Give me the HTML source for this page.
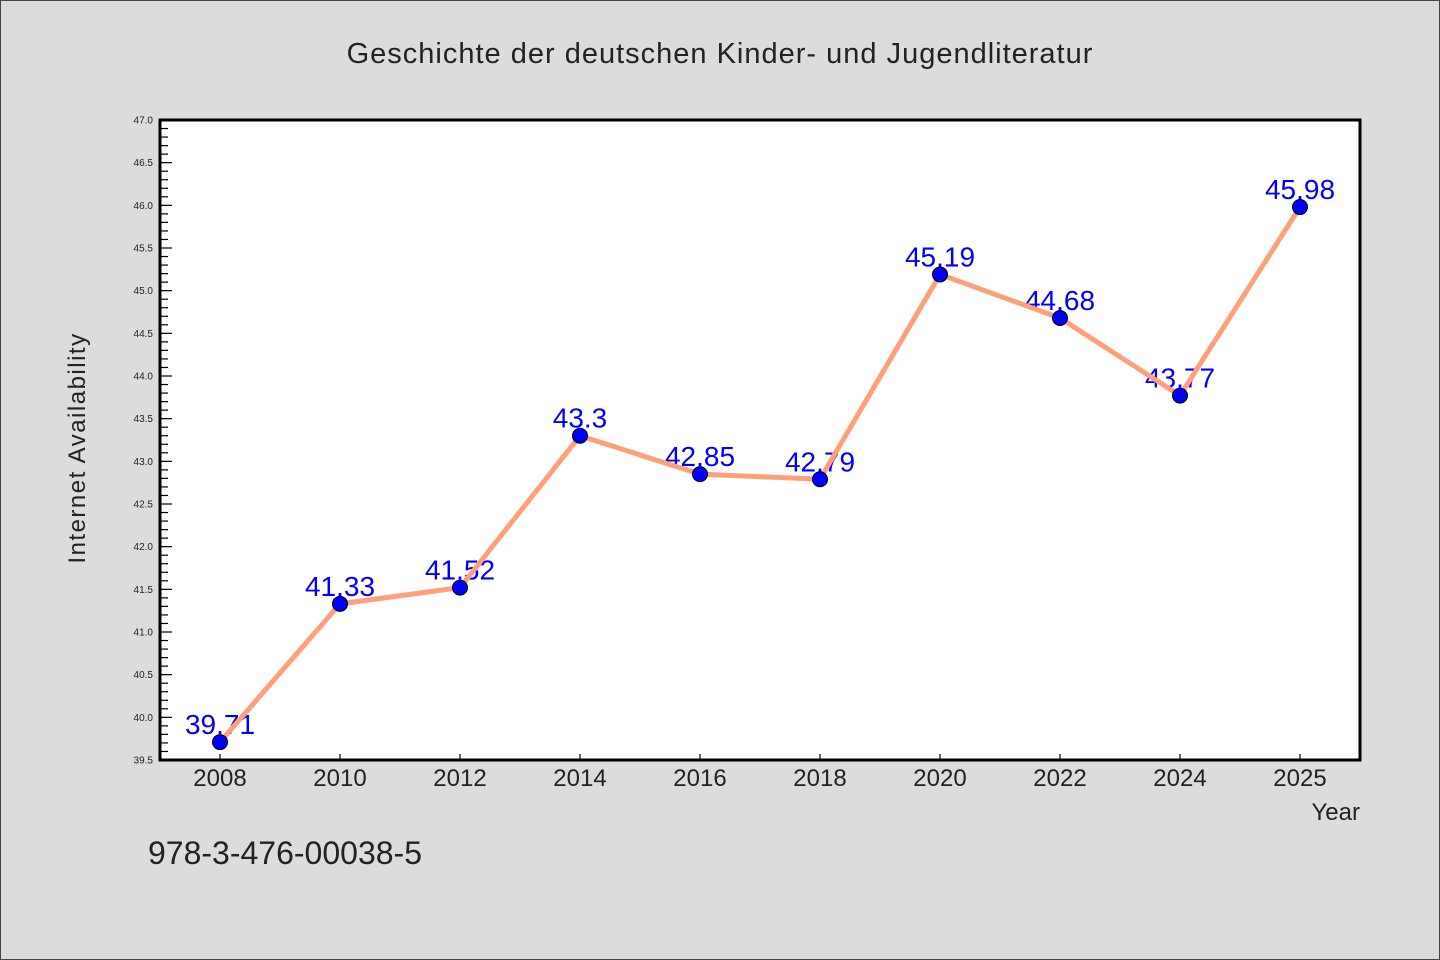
<!DOCTYPE html>
<html><head><meta charset="utf-8">
<style>
html,body{margin:0;padding:0;background:#dcdcdc;}
svg{display:block;}
text{font-family:"WenQuanYi Zen Hei","Liberation Sans",sans-serif;}
</style></head>
<body>
<svg id="chart" width="1440" height="960" xmlns="http://www.w3.org/2000/svg">
<rect x="0.5" y="0.5" width="1439" height="959" fill="#dcdcdc" stroke="#444" stroke-width="1"/>
<text x="720" y="63" font-size="29" text-anchor="middle" fill="#222" letter-spacing="1">Geschichte der deutschen Kinder- und Jugendliteratur</text>
<rect x="160" y="120" width="1200" height="640" fill="#fff"/>
<g id="grid"></g>
<text transform="translate(85,448) rotate(-90)" font-size="24" text-anchor="middle" fill="#222" letter-spacing="1.5">Internet Availability</text>
<text x="1360" y="820" font-size="24" text-anchor="end" fill="#222">Year</text>
<text x="148" y="864" font-size="32" fill="#222">978-3-476-00038-5</text>
</svg>
<script>
const categories = ["2008","2010","2012","2014","2016","2018","2020","2022","2024","2025"];
const values = [39.71,41.33,41.52,43.3,42.85,42.79,45.19,44.68,43.77,45.98];
const valueLabels = ["39.71","41.33","41.52","43.3","42.85","42.79","45.19","44.68","43.77","45.98"];
const yTicks = [39.5,40.0,40.5,41.0,41.5,42.0,42.5,43.0,43.5,44.0,44.5,45.0,45.5,46.0,46.5,47.0];
const yMin = 39.5, yMax = 47.0;
const L=160,R=1360,T=120,B=760;
const NS="http://www.w3.org/2000/svg";
const svg=document.getElementById('chart');
const g=document.getElementById('grid');
function x(i){return L+(R-L)/categories.length*(i+0.5);}
function y(v){return B-(v-yMin)/(yMax-yMin)*(B-T);}
function mk(tag,attrs,parent){const e=document.createElementNS(NS,tag);for(const k in attrs)e.setAttribute(k,attrs[k]);(parent||svg).appendChild(e);return e;}
// minor ticks
for(let k=0;k<=Math.round((yMax-yMin)*10);k++){
  const v=yMin+k*0.1;const major=k%5===0;
  const t=mk('line',{x1:L,x2:L+(major?12:8),y1:y(v),y2:y(v),stroke:'#000','stroke-width':1.2},g);
  
  
}
yTicks.forEach(v=>{
  const t=mk('text',{x:L-7,y:y(v)+3.5,'font-size':10,'text-anchor':'end',fill:'#222'},g);
  t.textContent=v.toFixed(1);
  
  
});
categories.forEach((c,i)=>{
  const t=mk('line',{x1:x(i),x2:x(i),y1:B,y2:B-6,stroke:'#000','stroke-width':1.2},g);
  
  
  const l=mk('text',{x:x(i),y:B+26,'font-size':24,'text-anchor':'middle',fill:'#222'},g);
  l.textContent=c;
  
  
});
// labels
values.forEach((v,i)=>{
  const t=mk('text',{x:x(i),y:y(v)-8,'font-size':28,'text-anchor':'middle',fill:'#0000ff'});
  t.textContent=valueLabels[i];
  
  
});
// line
const pl=mk('polyline',{points:values.map((v,i)=>x(i)+','+y(v)).join(' '),fill:'none',stroke:'#ffa07a','stroke-width':5,'stroke-linejoin':'round'});


values.forEach((v,i)=>{
  const c=mk('circle',{cx:x(i),cy:y(v),r:7.5,fill:'#0000ff',stroke:'#000','stroke-width':1});
  
  
});
// frame
const f=mk('rect',{x:L,y:T,width:R-L,height:B-T,fill:'none',stroke:'#000','stroke-width':3});


</script>
</body></html>
